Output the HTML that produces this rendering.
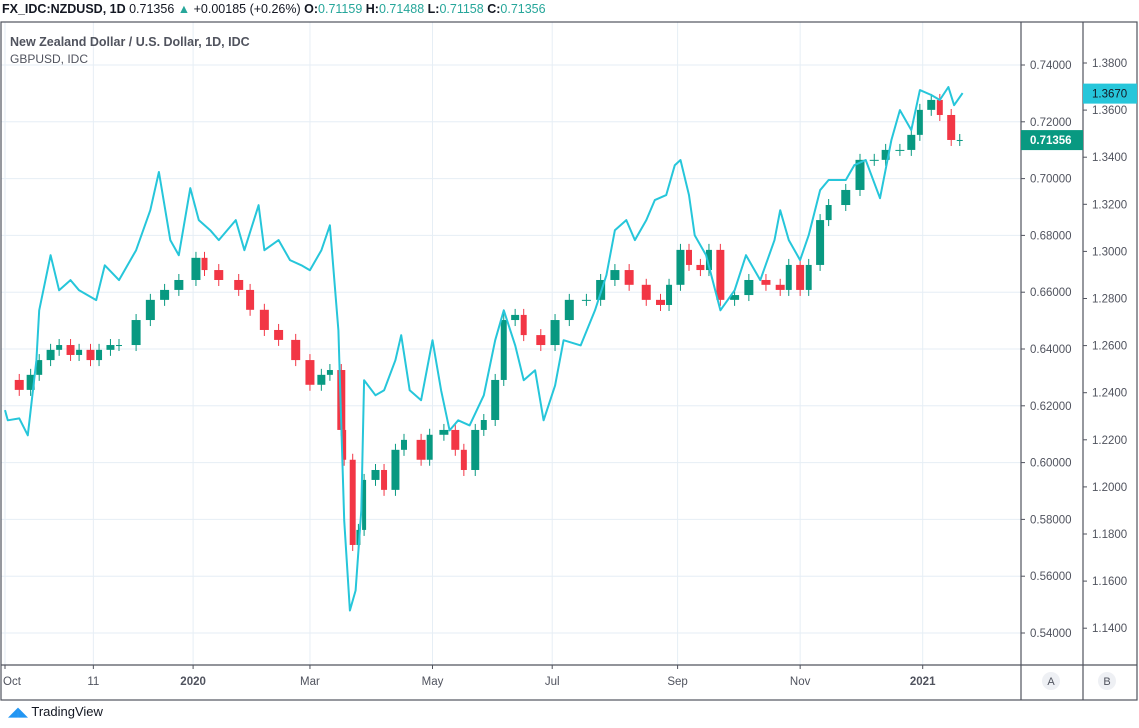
<!DOCTYPE html>
<html><head><meta charset="utf-8">
<style>
html,body{margin:0;padding:0;background:#fff;width:1139px;height:728px;overflow:hidden;font-family:"Liberation Sans",sans-serif;}
#hdr{position:absolute;left:2px;top:2px;font-size:12.5px;color:#131722;white-space:nowrap;}
#hdr b{font-weight:bold}
.g{color:#26a69a}
#tv{position:absolute;left:8px;top:704px;font-size:13px;color:#131722;}
</style></head><body>
<div id="hdr"><b>FX_IDC:NZDUSD, 1D</b> 0.71356 <span class="g">▲</span> +0.00185 (+0.26%) <b>O:</b><span class="g">0.71159</span> <b>H:</b><span class="g">0.71488</span> <b>L:</b><span class="g">0.71158</span> <b>C:</b><span class="g">0.71356</span></div>
<svg id="chart" width="1139" height="728" style="position:absolute;left:0;top:0">
<g id="grid"></g>
<g id="marks"></g>
<g id="axes"></g>
</svg>
<div id="tv"><span style="color:#2196f3">◢◣</span> TradingView</div>
<script>
const nzdBars=[0,5,9,12,16,19,23,26,30,33,37,40,46,51,56,61,67,70,75,82,86,91,96,102,107,111,114,118,119,122,124,126,130,133,137,140,146,149,154,158,161,165,168,172,175,179,182,188,193,198,204,209,214,219,225,230,233,237,240,244,247,251,256,261,267,272,275,279,282,286,289,295,300,305,309,314,318,321,325,328,332,335];
const nzdClose=[0.6291,0.6256,0.6309,0.6361,0.6397,0.6414,0.6379,0.6397,0.6361,0.6397,0.6414,0.6414,0.6502,0.6573,0.6608,0.6643,0.6721,0.6678,0.6643,0.6608,0.6538,0.6467,0.6432,0.6361,0.6274,0.6309,0.6326,0.6115,0.6010,0.5710,0.5763,0.5939,0.5974,0.5904,0.6045,0.6080,0.6010,0.6098,0.6115,0.6045,0.5974,0.6115,0.6150,0.6291,0.6502,0.6520,0.6449,0.6414,0.6502,0.6573,0.6573,0.6643,0.6678,0.6626,0.6573,0.6555,0.6626,0.6749,0.6696,0.6678,0.6749,0.6573,0.6590,0.6643,0.6626,0.6608,0.6696,0.6608,0.6696,0.6854,0.6907,0.6960,0.7066,0.7066,0.7101,0.7101,0.7154,0.7242,0.7277,0.7224,0.7136,0.7136];
const gbpBars=[0,1,5,8,11,12,16,19,23,26,32,35,40,46,51,54,58,61,65,68,72,75,81,84,89,91,96,100,104,107,111,114,117,119,121,123,125,126,130,133,137,139,142,146,150,153,156,159,163,168,172,175,179,182,186,189,193,196,202,207,211,214,218,221,225,228,232,235,237,240,242,246,251,256,260,265,270,272,275,279,282,286,289,295,298,302,307,311,314,318,321,325,328,331,333,336];
const gbpClose=[1.2326,1.2283,1.2291,1.2219,1.2538,1.2750,1.2984,1.2835,1.2878,1.2835,1.2793,1.2941,1.2878,1.3005,1.3175,1.3337,1.3048,1.2984,1.3269,1.3133,1.3090,1.3048,1.3133,1.3005,1.3196,1.3005,1.3048,1.2963,1.2941,1.2920,1.3005,1.3111,1.2665,1.1858,1.1475,1.1560,1.1900,1.2453,1.2389,1.2410,1.2538,1.2644,1.2410,1.2368,1.2623,1.2410,1.2240,1.2283,1.2261,1.2389,1.2623,1.2750,1.2601,1.2453,1.2495,1.2283,1.2431,1.2623,1.2601,1.2750,1.2899,1.3090,1.3133,1.3048,1.3133,1.3218,1.3239,1.3366,1.3388,1.3239,1.3069,1.2984,1.2750,1.2835,1.2984,1.2878,1.3048,1.3175,1.3048,1.2963,1.3069,1.3260,1.3303,1.3303,1.3366,1.3388,1.3226,1.3473,1.3600,1.3515,1.3685,1.3664,1.3643,1.3698,1.3621,1.3672];
const leftTicks=[0.54,0.56,0.58,0.60,0.62,0.64,0.66,0.68,0.70,0.72,0.74];
const rightTicks=[1.14,1.16,1.18,1.20,1.22,1.24,1.26,1.28,1.30,1.32,1.34,1.36,1.38];
const timeLabels=["Oct","11","2020","Mar","May","Jul","Sep","Nov","2021"];
const timeBars=[0,31,66,107,150,192,236,279,322];
const lastNzd=0.71356, lastGbp=1.3670;

const NS="http://www.w3.org/2000/svg";
const xS=b=>5+b*2.85;
const yL=v=>65+(0.74-v)*2840;
const yR=v=>63+(1.38-v)*2355;
function mk(tag,attrs,parent,txt){const e=document.createElementNS(NS,tag);for(const k in attrs)e.setAttribute(k,attrs[k]);if(txt!==undefined)e.textContent=txt;parent.appendChild(e);return e;}
const grid=document.getElementById('grid'),marks=document.getElementById('marks'),axes=document.getElementById('axes');
leftTicks.forEach(v=>{const l=mk('line',{x1:1,x2:1021,y1:yL(v),y2:yL(v),stroke:'#e6eef5','stroke-width':1},grid);

});
timeBars.forEach(b=>{const l=mk('line',{x1:xS(b),x2:xS(b),y1:22,y2:665,stroke:'#e6eef5','stroke-width':1},grid);

});
// candles
for(let i=1;i<nzdClose.length;i++){
 const o=nzdClose[i-1],c=nzdClose[i],up=c>=o,col=up?'#089981':'#f23645';
 const x=xS(nzdBars[i]);const y1=yL(Math.max(o,c)),y2=yL(Math.min(o,c));
 const gap=xS(nzdBars[i])-xS(nzdBars[i-1]);
 const bw=Math.max(4,Math.min(9,gap*0.7));
 const w=mk('line',{x1:x,x2:x,y1:y1-6,y2:y2+6,stroke:col,'stroke-width':1},marks);
 
 
 const r=mk('rect',{x:x-bw/2,y:y1,width:bw,height:Math.max(1,y2-y1),fill:col},marks);
 
 
}
const pts=gbpBars.map((b,i)=>xS(b).toFixed(1)+','+yR(gbpClose[i]).toFixed(1)).join(' ');
const pl=mk('polyline',{points:pts,fill:'none',stroke:'#26c6da','stroke-width':2,'stroke-linejoin':'round'},marks);


// frame
const frame=mk('rect',{x:1,y:22,width:1136,height:678,fill:'none',stroke:'#50535e','stroke-width':1.2},axes);


[[1021,22,1021,700],[1083,22,1083,700],[1,665,1137,665]].forEach(a=>{const l=mk('line',{x1:a[0],y1:a[1],x2:a[2],y2:a[3],stroke:'#50535e','stroke-width':1.2},axes);

});
leftTicks.forEach(v=>{const y=yL(v);mk('line',{x1:1021,x2:1025,y1:y,y2:y,stroke:'#50535e'},axes);
const t=mk('text',{x:1030,y:y+4,'font-size':11.5,fill:'#50535e'},axes,v.toFixed(5));

});
rightTicks.forEach(v=>{const y=yR(v);mk('line',{x1:1083,x2:1087,y1:y,y2:y,stroke:'#50535e'},axes);
const t=mk('text',{x:1092,y:y+4,'font-size':11.5,fill:'#50535e'},axes,v.toFixed(4));

});
timeLabels.forEach((s,i)=>{const x=xS(timeBars[i]);mk('line',{x1:x,x2:x,y1:665,y2:669,stroke:'#50535e'},axes);
const bold=(s==='2020'||s==='2021');
const t=mk('text',{x:i===0?x-2:x,y:685,'font-size':11.5,fill:'#50535e','text-anchor':i===0?'start':'middle','font-weight':bold?'bold':'normal'},axes,s);

});
// last price labels
let y=yL(lastNzd);
const b1=mk('rect',{x:1021,y:y-10,width:62,height:20,fill:'#089981'},axes);


mk('text',{x:1030,y:y+4,'font-size':11.5,fill:'#fff','font-weight':'bold'},axes,lastNzd.toFixed(5));
y=yR(lastGbp);
const b2=mk('rect',{x:1083,y:y-10,width:54,height:20,fill:'#26c6da'},axes);


mk('text',{x:1092,y:y+4,'font-size':11.5,fill:'#131722'},axes,lastGbp.toFixed(4));
// legend
const lg1=mk('text',{x:10,y:46,'font-size':12.5,fill:'#50535e','font-weight':'bold'},axes,'New Zealand Dollar / U.S. Dollar, 1D, IDC');


const lg2=mk('text',{x:10,y:63,'font-size':12,fill:'#50535e'},axes,'GBPUSD, IDC');


// A / B buttons
[[1051,'A'],[1107,'B']].forEach(p=>{const c=mk('circle',{cx:p[0],cy:681,r:9,fill:'#eef0f4'},axes);


mk('text',{x:p[0],y:685,'font-size':11,fill:'#50535e','text-anchor':'middle'},axes,p[1]);});
</script>
</body></html>
